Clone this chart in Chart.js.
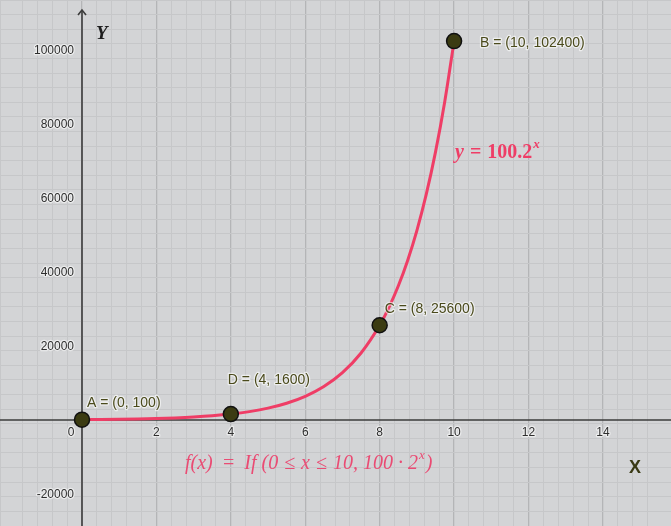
<!DOCTYPE html>
<html>
<head>
<meta charset="utf-8">
<script src="https://cdn.jsdelivr.net/npm/chart.js@4/dist/chart.umd.min.js"></script>
<style>
html,body{margin:0;padding:0;background:#d3d4d6;overflow:hidden;}
#wrap{width:671px;height:526px;}
</style>
</head>
<body>
<div id="wrap"><canvas id="c" width="671" height="526"></canvas></div>
<script>
// ---- data ----
const curveX = [0, 0.5, 1, 1.5, 2, 2.5, 3, 3.5, 4, 4.5, 5, 5.5, 6, 6.5, 7, 7.5, 8, 8.25, 8.5, 8.75, 9, 9.25, 9.5, 9.75, 10];
const curveY = [100, 141, 200, 283, 400, 566, 800, 1131, 1600, 2263, 3200, 4525, 6400, 9051, 12800, 18102, 25600, 30444, 36204, 43054, 51200, 60887, 72408, 86108, 102400];
const pointNames = ['A', 'D', 'C', 'B'];
const pointX = [0, 4, 8, 10];
const pointY = [100, 1600, 25600, 102400];
const xTickLabels = [0, 2, 4, 6, 8, 10, 12, 14];
const yTickLabels = [-20000, 20000, 40000, 60000, 80000, 100000];
const curveLabelParts = ['y', '=', '100.2', 'x'];
const funcLabelParts = ['f(x)', '=', 'If (0', '≤', 'x', '≤', '10, 100 · 2', 'x', ')'];

const X_MIN = -2.204, X_MAX = 15.83, Y_MIN = -28649, Y_MAX = 113514;
const RED = '#ef3d66';
const OLIVE = '#4a4a1c';

function isMajor(v, m) { const r = v / m; return Math.abs(r - Math.round(r)) < 1e-6; }

const overlay = {
  id: 'overlay',
  beforeDatasetsDraw(chart) {
    const ctx = chart.ctx, xs = chart.scales.x, ys = chart.scales.y;
    const x0 = xs.getPixelForValue(0), y0 = ys.getPixelForValue(0);
    ctx.save();
    ctx.strokeStyle = '#3c3c3c';
    ctx.lineWidth = 1.6;
    ctx.beginPath();
    ctx.moveTo(0, y0); ctx.lineTo(chart.width, y0);
    ctx.moveTo(x0, chart.height); ctx.lineTo(x0, 11);
    ctx.stroke();
    ctx.beginPath();
    ctx.moveTo(x0 - 4, 15); ctx.lineTo(x0, 10); ctx.lineTo(x0 + 4, 15);
    ctx.stroke();
    ctx.font = '12px "Liberation Sans", Arial, sans-serif';
    ctx.lineJoin = 'round';
    ctx.fillStyle = '#2e2e2e';
    ctx.strokeStyle = 'rgba(255,255,255,0.55)';
    ctx.lineWidth = 2.5;
    ctx.textBaseline = 'middle';
    ctx.textAlign = 'right';
    yTickLabels.forEach(v => {
      const py = ys.getPixelForValue(v);
      ctx.strokeText(String(v), x0 - 8, py + 1);
      ctx.fillText(String(v), x0 - 8, py + 1);
    });
    ctx.textAlign = 'center';
    xTickLabels.forEach(v => {
      let px = xs.getPixelForValue(v);
      if (v === 0) px -= 11;
      ctx.strokeText(String(v), px, y0 + 13);
      ctx.fillText(String(v), px, y0 + 13);
    });
    ctx.textAlign = 'left';
    ctx.fillStyle = '#1e1e1e';
    ctx.font = 'italic bold 19px "Liberation Serif", "DejaVu Serif", serif';
    ctx.fillText('Y', x0 + 14, 34);
    ctx.fillStyle = '#3a3a14';
    ctx.font = 'bold 18px "Liberation Sans", Arial, sans-serif';
    ctx.fillText('X', 629, 468);
    ctx.restore();
  },
  afterDatasetsDraw(chart) {
    const ctx = chart.ctx;
    const meta = chart.getDatasetMeta(1);
    const offs = [[5, -16], [-3, -34], [5, -16], [26, 2]];
    ctx.save();
    ctx.font = '14px "Liberation Sans", Arial, sans-serif';
    ctx.textBaseline = 'middle';
    ctx.textAlign = 'left';
    ctx.lineJoin = 'round';
    meta.data.forEach((el, i) => {
      const t = pointNames[i] + ' = (' + pointX[i] + ', ' + pointY[i] + ')';
      const px = el.x + offs[i][0], py = el.y + offs[i][1];
      ctx.strokeStyle = 'rgba(255,255,255,0.6)';
      ctx.lineWidth = 2.5;
      ctx.strokeText(t, px, py);
      ctx.fillStyle = OLIVE;
      ctx.fillText(t, px, py);
    });
    const SER = '"Liberation Serif", "DejaVu Serif", serif';
    ctx.fillStyle = RED;
    let x = 455, y = 153;
    ctx.font = 'italic bold 20px ' + SER;
    ctx.fillText(curveLabelParts[0], x, y); x += ctx.measureText(curveLabelParts[0]).width + 6;
    ctx.font = 'bold 20px ' + SER;
    ctx.fillText(curveLabelParts[1], x, y); x += ctx.measureText(curveLabelParts[1]).width + 6;
    ctx.fillText(curveLabelParts[2], x, y); x += ctx.measureText(curveLabelParts[2]).width + 1;
    ctx.font = 'italic bold 13px ' + SER;
    ctx.fillText(curveLabelParts[3], x, y - 8);
    ctx.fillStyle = '#ea4b73';
    x = 185; y = 464;
    const gaps = [9, 9, 6, 6, 6, 6, 1, 1, 0];
    funcLabelParts.forEach((p, i) => {
      const sup = (i === 7);
      ctx.font = 'italic ' + (sup ? 13 : 20) + 'px ' + SER;
      ctx.fillText(p, x, sup ? y - 8 : y);
      x += ctx.measureText(p).width + gaps[i];
    });
    ctx.restore();
  }
};

new Chart(document.getElementById('c'), {
  type: 'scatter',
  data: {
    datasets: [
      {
        label: 'f(x)',
        order: 2,
        data: curveX.map((v, i) => ({x: v, y: curveY[i]})),
        showLine: true,
        borderColor: RED,
        borderWidth: 3,
        pointRadius: 0,
        cubicInterpolationMode: 'monotone',
        fill: false
      },
      {
        label: 'points',
        order: 1,
        data: pointX.map((v, i) => ({x: v, y: pointY[i]})),
        showLine: false,
        pointRadius: 7.5,
        pointBackgroundColor: '#3b3b12',
        pointBorderColor: '#111111',
        pointBorderWidth: 1.5
      }
    ]
  },
  options: {
    responsive: false,
    animation: false,
    layout: {padding: 0, autoPadding: false},
    plugins: {legend: {display: false}, tooltip: {enabled: false}},
    scales: {
      x: {
        type: 'linear', min: X_MIN, max: X_MAX,
        ticks: {display: false, stepSize: 0.4},
        border: {display: false},
        grid: {
          drawTicks: false,
          color: c => isMajor(c.tick.value, 2) ? '#b4b5b7' : '#c6c7c9',
          lineWidth: c => isMajor(c.tick.value, 2) ? 1.3 : 1
        },
        afterFit: s => { s.height = 0; }
      },
      y: {
        type: 'linear', min: Y_MIN, max: Y_MAX,
        ticks: {display: false, stepSize: 4000},
        border: {display: false},
        grid: {
          drawTicks: false,
          color: c => isMajor(c.tick.value, 20000) ? '#b4b5b7' : '#c6c7c9',
          lineWidth: c => isMajor(c.tick.value, 20000) ? 1.3 : 1
        },
        afterFit: s => { s.width = 0; }
      }
    }
  },
  plugins: [overlay]
});
</script>
</body>
</html>
